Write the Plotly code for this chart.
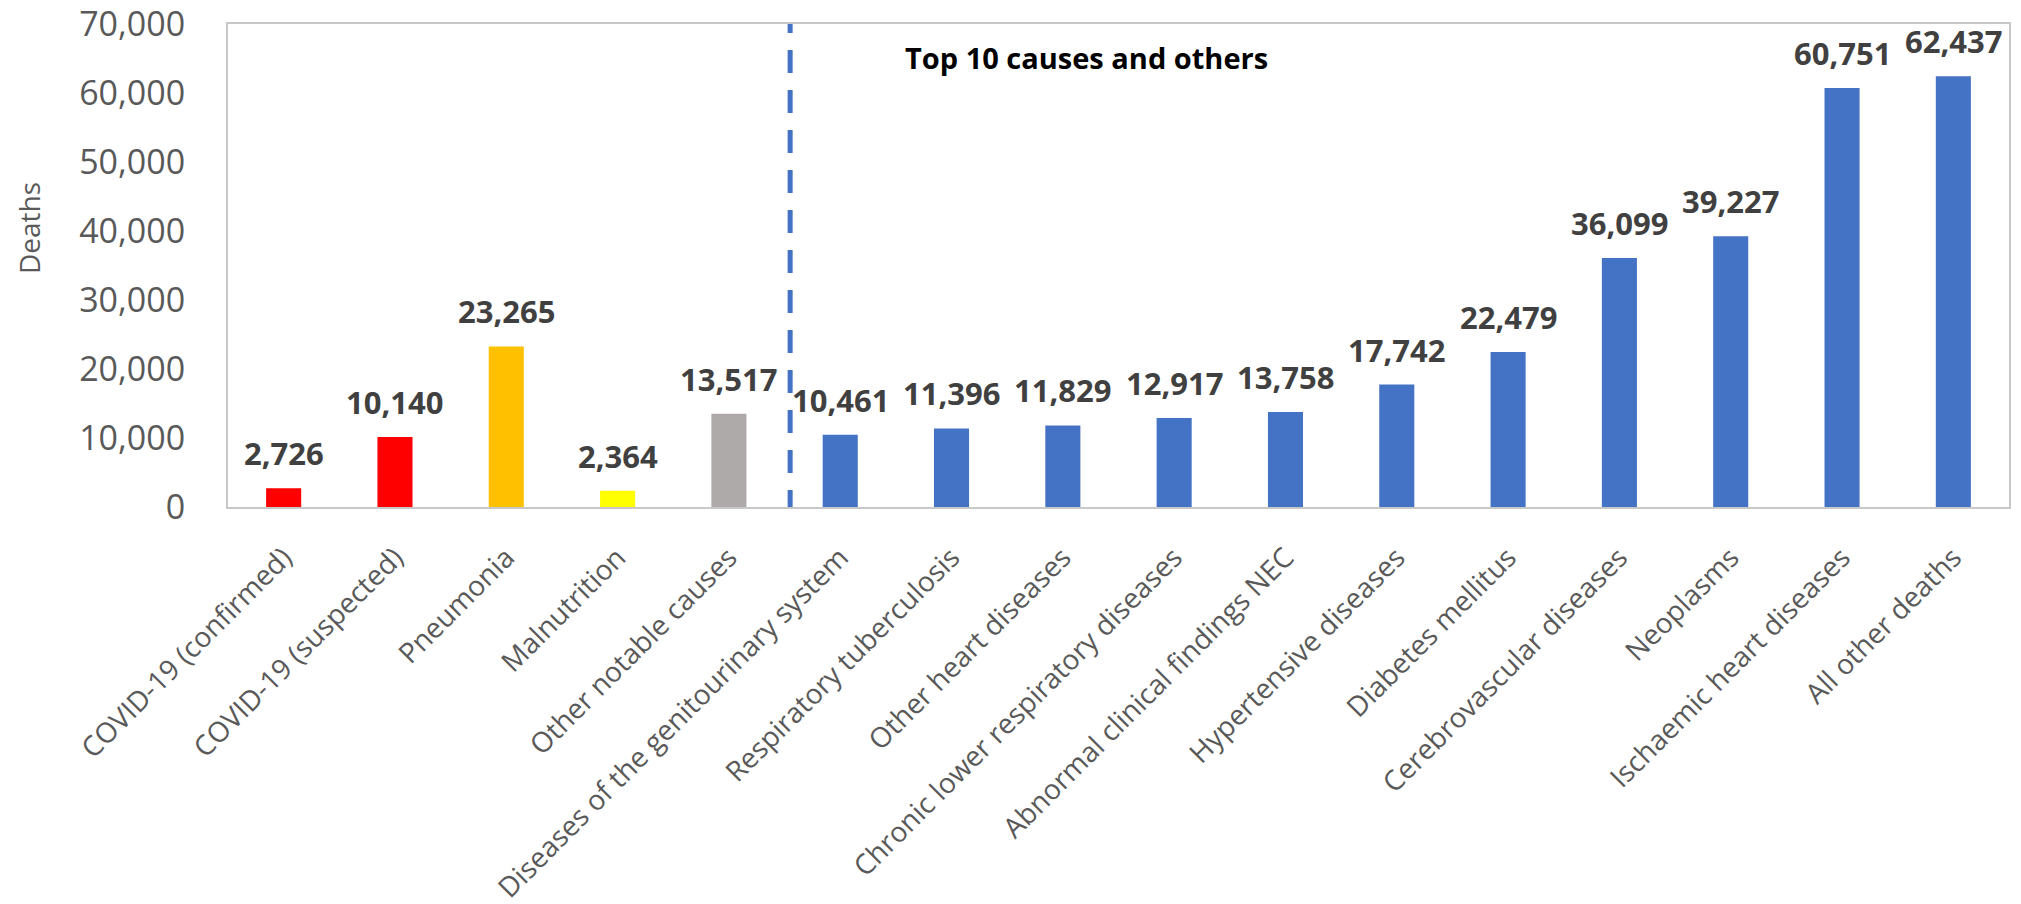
import plotly.graph_objects as go

categories = [
    "COVID-19 (confirmed)",
    "COVID-19 (suspected)",
    "Pneumonia",
    "Malnutrition",
    "Other notable causes",
    "Diseases of the genitourinary system",
    "Respiratory tuberculosis",
    "Other heart diseases",
    "Chronic lower respiratory diseases",
    "Abnormal clinical findings NEC",
    "Hypertensive diseases",
    "Diabetes mellitus",
    "Cerebrovascular diseases",
    "Neoplasms",
    "Ischaemic heart diseases",
    "All other deaths",
]
deaths = [2726, 10140, 23265, 2364, 13517, 10461, 11396, 11829, 12917,
          13758, 17742, 22479, 36099, 39227, 60751, 62437]
bar_colors = ["#FF0000", "#FF0000", "#FFC000", "#FFFF00", "#AEAAAA"] + ["#4472C4"] * 11
y_ticks = [0, 10000, 20000, 30000, 40000, 50000, 60000, 70000]
divider_text = "Top 10 causes and others"

FONT = "Open Sans"

fig = go.Figure(
    go.Bar(
        x=categories,
        y=deaths,
        width=0.315,
        marker=dict(color=bar_colors, line=dict(width=0)),
        hoverinfo="x+y",
    )
)

annotations = []
for c, v in zip(categories, deaths):
    annotations.append(dict(
        x=c, y=v, xref="x", yref="y", text=f"{v:,}", showarrow=False,
        xanchor="center", yanchor="bottom", yshift=12,
        font=dict(family=FONT, size=31, color="#404040", weight="bold"),
    ))

annotations.append(dict(
    x=-0.1117, y=0.5776, xref="paper", yref="paper", text="Deaths",
    showarrow=False, textangle=-90, xanchor="center", yanchor="middle",
    font=dict(family=FONT, size=28, color="#595959"),
))
annotations.append(dict(
    x=0.482, y=0.93, xref="paper", yref="paper", text=divider_text,
    showarrow=False, xanchor="center", yanchor="middle",
    font=dict(family=FONT, size=29, color="#000000", weight="bold"),
))

fig.update_layout(
    width=2021, height=904, autosize=False,
    margin=dict(l=228, r=12, t=24, b=397),
    plot_bgcolor="white", paper_bgcolor="white",
    showlegend=False,
    annotations=annotations,
    shapes=[dict(
        type="line", xref="x", yref="y", x0=4.55, x1=4.55, y0=-870, y1=72000,
        line=dict(color="#4472C4", width=5, dash="23px,17px"),
        layer="above",
    )],
    xaxis=dict(
        tickangle=-45, ticks="", showline=True, linecolor="#C8C8C8", linewidth=2,
        mirror=True, showgrid=False, ticklabelstandoff=21, automargin=False,
        tickfont=dict(family=FONT, size=28, color="#595959"),
    ),
    yaxis=dict(
        range=[0, 70010], tickvals=y_ticks, tickformat=",", ticks="",
        showline=True, linecolor="#C8C8C8", linewidth=2, mirror=True,
        showgrid=False, zeroline=False, ticklabelstandoff=34, automargin=False,
        ticklabeloverflow="allow",
        tickfont=dict(family=FONT, size=34, color="#595959"),
    ),
)

fig.write_html("out.html")
